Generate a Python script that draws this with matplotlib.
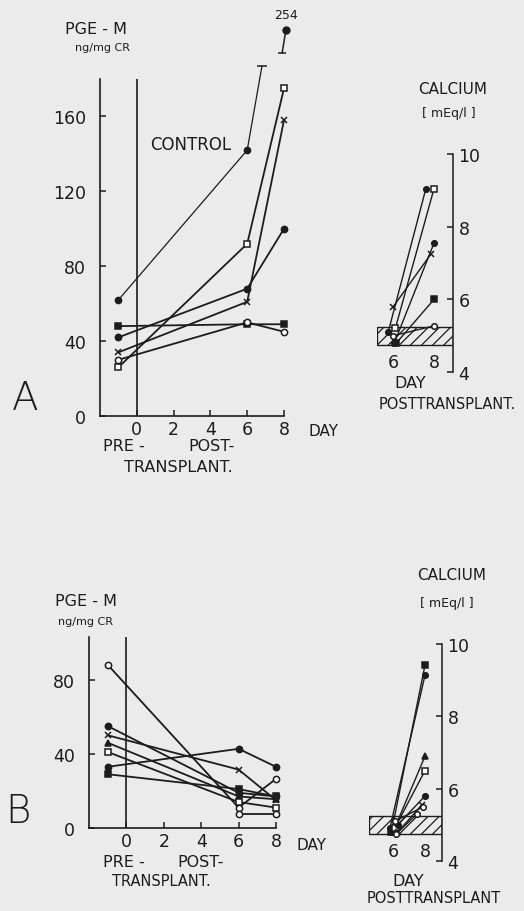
import numpy as np
import matplotlib
matplotlib.use('Agg')
import matplotlib.pyplot as plt

plt.rcParams['font.family'] = ['DejaVu Sans']
plt.rcParams['hatch.linewidth'] = 0.9

INK = '#1c1c1c'
PAPER = '#ebebeb'

# ---- panel A, PGE-M (ng/mg CR): pre-transplant, day 6, day 8 ----
days = [-1, 6, 8]
pge_a = {
    'control': [62, 142, 254],
    'sq_open': [26, 92, 175],
    'cross': [34, 61, 158],
    'dot': [42, 68, 100],
    'sq_fill': [48, 49, 49],
    'ring': [30, 50, 45],
}
# ---- panel B, PGE-M ----
pge_b = {
    'ring': [88, 11, 26.5],
    'dot': [55, 19, 17],
    'cross': [50, 31.5, 15],
    'tri': [46, 17, 15.5],
    'sq_open': [41, 14, 11],
    'dot2': [33, 42.7, 33],
    'sq_fill': [29, 21, 17],
    'ring2': [np.nan, 7.6, 7.6],
}
# ---- calcium (mEq/l) on day 6 and day 8, x = day (slightly spread) ----
ca_a = {
    'dot': ([5.75, 7.6], [5.1, 9.05]),
    'sq_open': ([6.1, 8.0], [5.2, 9.05]),
    'dot2': ([6.05, 8.0], [4.8, 7.55]),
    'cross': ([6.0, 7.85], [5.8, 7.25]),
    'sq_fill': ([6.15, 8.0], [4.8, 6.0]),
    'ring': ([6.0, 8.0], [5.0, 5.27]),
}
ca_b = {
    'sq_fill': ([5.9, 8.0], [4.8, 9.42]),
    'dot': ([5.8, 8.0], [4.9, 9.14]),
    'tri': ([6.0, 8.0], [4.8, 6.9]),
    'sq_open': ([6.1, 8.0], [4.9, 6.5]),
    'dot2': ([6.3, 8.0], [5.0, 5.8]),
    'cross': ([6.3, 7.8], [4.8, 5.55]),
    'ring': ([6.1, 7.9], [5.1, 5.5]),
    'ring2': ([6.2, 7.5], [4.75, 5.3]),
}
normal_range = (4.75, 5.25)

styles = {
    'control': ('o', True), 'dot': ('o', True), 'dot2': ('o', True),
    'sq_open': ('s', False), 'sq_fill': ('s', True), 'cross': ('x', True),
    'ring': ('o', False), 'ring2': ('o', False), 'tri': ('^', True),
}

W, H = 524, 912
fig = plt.figure(figsize=(W / 100, H / 100), dpi=100, facecolor=PAPER)


def px_axes(left, top, right, bottom):
    return fig.add_axes([left / W, 1 - bottom / H, (right - left) / W, (bottom - top) / H])


def ftext(x, y, s, size, **kw):
    fig.text(x / W, 1 - y / H, s, fontsize=size, color=INK, va='center', **kw)


def draw_series(ax, xs, ys, key, lw=1.3, ms=4.5):
    m, filled = styles[key]
    ax.plot(xs, ys, color=INK, lw=lw, marker=m, ms=ms if m != 'x' else ms + 0.5,
            mfc=INK if filled else 'white', mec=INK, mew=1.1, clip_on=False, zorder=3)


def pge_axes(ax, ytop, yticks):
    ax.set_facecolor('none')
    ax.set_xlim(-2, 8)
    ax.set_ylim(0, ytop)
    for s in ['top', 'right']:
        ax.spines[s].set_visible(False)
    for s in ['left', 'bottom']:
        ax.spines[s].set_linewidth(1.2)
        ax.spines[s].set_color(INK)
    ax.set_xticks([0, 2, 4, 6, 8])
    ax.set_yticks(yticks)
    ax.tick_params(direction='in', length=4, width=1.1, colors=INK, labelsize=12.5)
    ax.tick_params(axis='y', pad=10)
    ax.tick_params(axis='x', pad=3)
    ax.axvline(0, color=INK, lw=1.2)


def calcium_axes(ax, xlim):
    ax.set_facecolor('none')
    ax.set_xlim(*xlim)
    ax.set_ylim(4, 10)
    for s in ['top', 'left', 'bottom']:
        ax.spines[s].set_visible(False)
    ax.spines['right'].set_linewidth(1.1)
    ax.spines['right'].set_color(INK)
    ax.yaxis.tick_right()
    ax.set_yticks([4, 6, 8, 10])
    ax.tick_params(axis='y', direction='in', length=4, width=1.1, colors=INK, labelsize=12.5, pad=4)
    ax.set_xticks([6, 8])
    ax.tick_params(axis='x', length=0, colors=INK, labelsize=12.5, pad=-14)
    ax.axhspan(*normal_range, facecolor='none', edgecolor=INK, hatch='///', lw=1.0, zorder=1)


# ================= panel A =================
axA = px_axes(100, 80, 284, 417)
pge_axes(axA, 180, [0, 40, 80, 120, 160])
for key, vals in pge_a.items():
    if key == 'control':
        # off-scale value: the line is cut at the top and the value is written above
        cap_y = 187
        x_cap = days[1] + (cap_y - vals[1]) / (vals[2] - vals[1]) * (days[2] - days[1])
        axA.plot(days[:2], vals[:2], color=INK, lw=0.9, marker='o', ms=4.5, mfc=INK,
                 mec=INK, clip_on=False, zorder=3)
        axA.plot([days[1], x_cap], [vals[1], cap_y], color=INK, lw=0.9, clip_on=False)
        axA.plot([x_cap], [cap_y], marker='_', ms=7, mew=1.1, color=INK, clip_on=False)
        axA.plot([7.9, 8.1], [194, 206], color=INK, lw=1.1, clip_on=False)
        axA.plot([7.9], [194], marker='_', ms=6, mew=1.1, color=INK, clip_on=False)
        axA.plot([8.1], [206], marker='o', ms=5, color=INK, clip_on=False)
        axA.text(8.1, 211, f'{vals[2]:g}', fontsize=9, color=INK, ha='center', va='bottom')
    else:
        draw_series(axA, days, vals, key)

ftext(65, 30, 'PGE - M', 11.5)
ftext(75, 48, 'ng/mg CR', 8)
ftext(150, 145, 'CONTROL', 12)
ftext(308, 432, 'DAY', 11)
ftext(103, 447, 'PRE -', 11.5)
ftext(188, 447, 'POST-', 11.5)
ftext(124, 468, 'TRANSPLANT.', 11.5)
ftext(12, 399, 'A', 28, fontweight='light')

caA = px_axes(377, 155, 453, 373)
calcium_axes(caA, (5.2, 8.93))
for key, (xs, ys) in ca_a.items():
    draw_series(caA, xs, ys, key, lw=1.0, ms=4)
ftext(453, 90, 'CALCIUM', 11, ha='center')
ftext(449, 113, '[ mEq/l ]', 9, ha='center')
ftext(410, 384, 'DAY', 11.5, ha='center')
ftext(447, 405, 'POSTTRANSPLANT.', 10.5, ha='center')

# ================= panel B =================
axB = px_axes(89, 638, 276, 829)
pge_axes(axB, 103, [0, 40, 80])
for key, vals in pge_b.items():
    draw_series(axB, days, vals, key)

ftext(55, 602, 'PGE - M', 11.5)
ftext(58, 622, 'ng/mg CR', 8)
ftext(297, 846, 'DAY', 11)
ftext(103, 863, 'PRE -', 11.5)
ftext(177, 863, 'POST-', 11.5)
ftext(112, 882, 'TRANSPLANT.', 10.5)
ftext(5, 812, 'B', 28, fontweight='light')

caB = px_axes(369, 645, 442, 862)
calcium_axes(caB, (4.5, 9.06))
for key, (xs, ys) in ca_b.items():
    draw_series(caB, xs, ys, key, lw=1.0, ms=4)
ftext(452, 575, 'CALCIUM', 11, ha='center')
ftext(447, 603, '[ mEq/l ]', 9, ha='center')
ftext(408, 882, 'DAY', 11.5, ha='center')
ftext(367, 899, 'POSTTRANSPLANT', 10.5)

fig.savefig('out.png', dpi=100, facecolor=PAPER)
